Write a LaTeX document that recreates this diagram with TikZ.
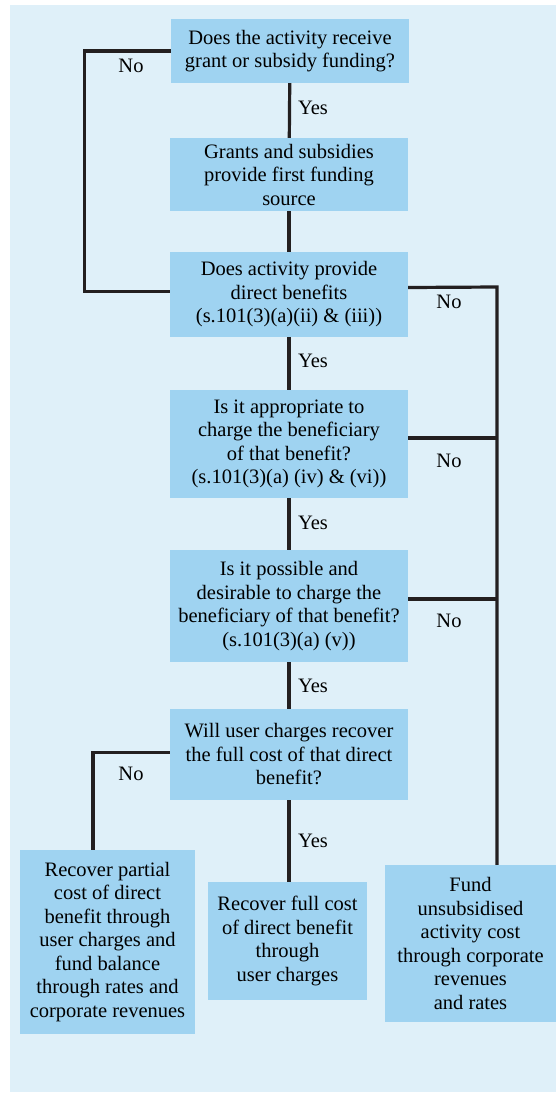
\documentclass[tikz,border=0pt]{standalone}
\usepackage{fontspec}
\setmainfont{Liberation Serif}
\usetikzlibrary{calc}
\definecolor{panelblue}{RGB}{223,240,249}
\definecolor{boxblue}{RGB}{159,211,241}
\definecolor{linegray}{RGB}{35,31,32}

\begin{document}
\begin{tikzpicture}[x=1pt,y=-1pt,
		box/.style={fill=boxblue,inner sep=2pt,align=center,minimum width=238pt,
			font=\fontsize{20.5}{23.5}\selectfont},
		lbl/.style={font=\fontsize{20.5}{23.5}\selectfont,inner sep=0pt},
		link/.style={draw=linegray,line width=3.2pt}]
		\useasboundingbox[fill=white] (0,0) rectangle (556,1093);
		\fill[panelblue] (10,5) rectangle (556,1092);
		% questions down the middle
		\node[box,minimum height=64pt] (grant) at (290,51) {Does the activity receive\\grant or subsidy funding?};
		\node[box,minimum height=73pt] (first) at (289,174.5) {Grants and subsidies\\provide first funding\\source};
		\node[box,minimum height=85pt] (direct) at (289,294.5) {Does activity provide\\direct benefits\\(s.101(3)(a)(ii) \& (iii))};
		\node[box,minimum height=108pt] (approp) at (289,444) {Is it appropriate to\\charge the beneficiary\\of that benefit?\\(s.101(3)(a) (iv) \& (vi))};
		\node[box,minimum height=112pt] (possible) at (289,606) {Is it possible and\\desirable to charge the\\beneficiary of that benefit?\\(s.101(3)(a) (v))};
		\node[box,minimum height=91pt] (fullcost) at (289,754.5) {Will user charges recover\\the full cost of that direct\\benefit?};
		% outcomes
		\node[box,minimum width=175pt,minimum height=184pt] (partial) at (107.5,942) {Recover partial\\cost of direct\\benefit through\\user charges and\\fund balance\\through rates and\\corporate revenues};
		\node[box,minimum width=159pt,minimum height=118pt] (full) at (287.5,941) {Recover full cost\\of direct benefit\\through\\user charges};
		\node[box,minimum width=171pt,minimum height=157pt] (unsub) at (470.5,943.5) {Fund\\unsubsidised\\activity cost\\through corporate\\revenues\\and rates};
		\coordinate (rail) at (497,287);
		% connectors
		\draw[link] (grant) -- (first);
		\draw[link] (first) -- (direct);
		\draw[link] (direct) -- (approp);
		\draw[link] (approp) -- (possible);
		\draw[link] (possible) -- (fullcost);
		\draw[link] (fullcost.south) -- (fullcost.south |- full.north);
		\draw[link] (grant.west) -- ++(-86,0) |- ([yshift=3pt]direct.west);
		\draw[link] ([yshift=7pt]direct.east) -- (rail) -- (rail |- unsub.north);
		\draw[link] ([yshift=6pt]approp.east) -- ([yshift=6pt]approp.east -| rail);
		\draw[link] ([yshift=7pt]possible.east) -- ([yshift=7pt]possible.east -| rail);
		\draw[link] ([yshift=2pt]fullcost.west) -| ([xshift=-14.5pt]partial.north);
		% answers
		\node[lbl] (no1) at (131,66) {No};
		\node[lbl] (yes1) at (313,108) {Yes};
		\node[lbl] (no2) at (449,302) {No};
		\node[lbl] (yes2) at (313,361) {Yes};
		\node[lbl] (no3) at (449,461) {No};
		\node[lbl] (yes3) at (313,523) {Yes};
		\node[lbl] (no4) at (449,621) {No};
		\node[lbl] (yes4) at (313,686) {Yes};
		\node[lbl] (no5) at (131,774) {No};
		\node[lbl] (yes5) at (313,841) {Yes};
	\end{tikzpicture}
\end{document}
